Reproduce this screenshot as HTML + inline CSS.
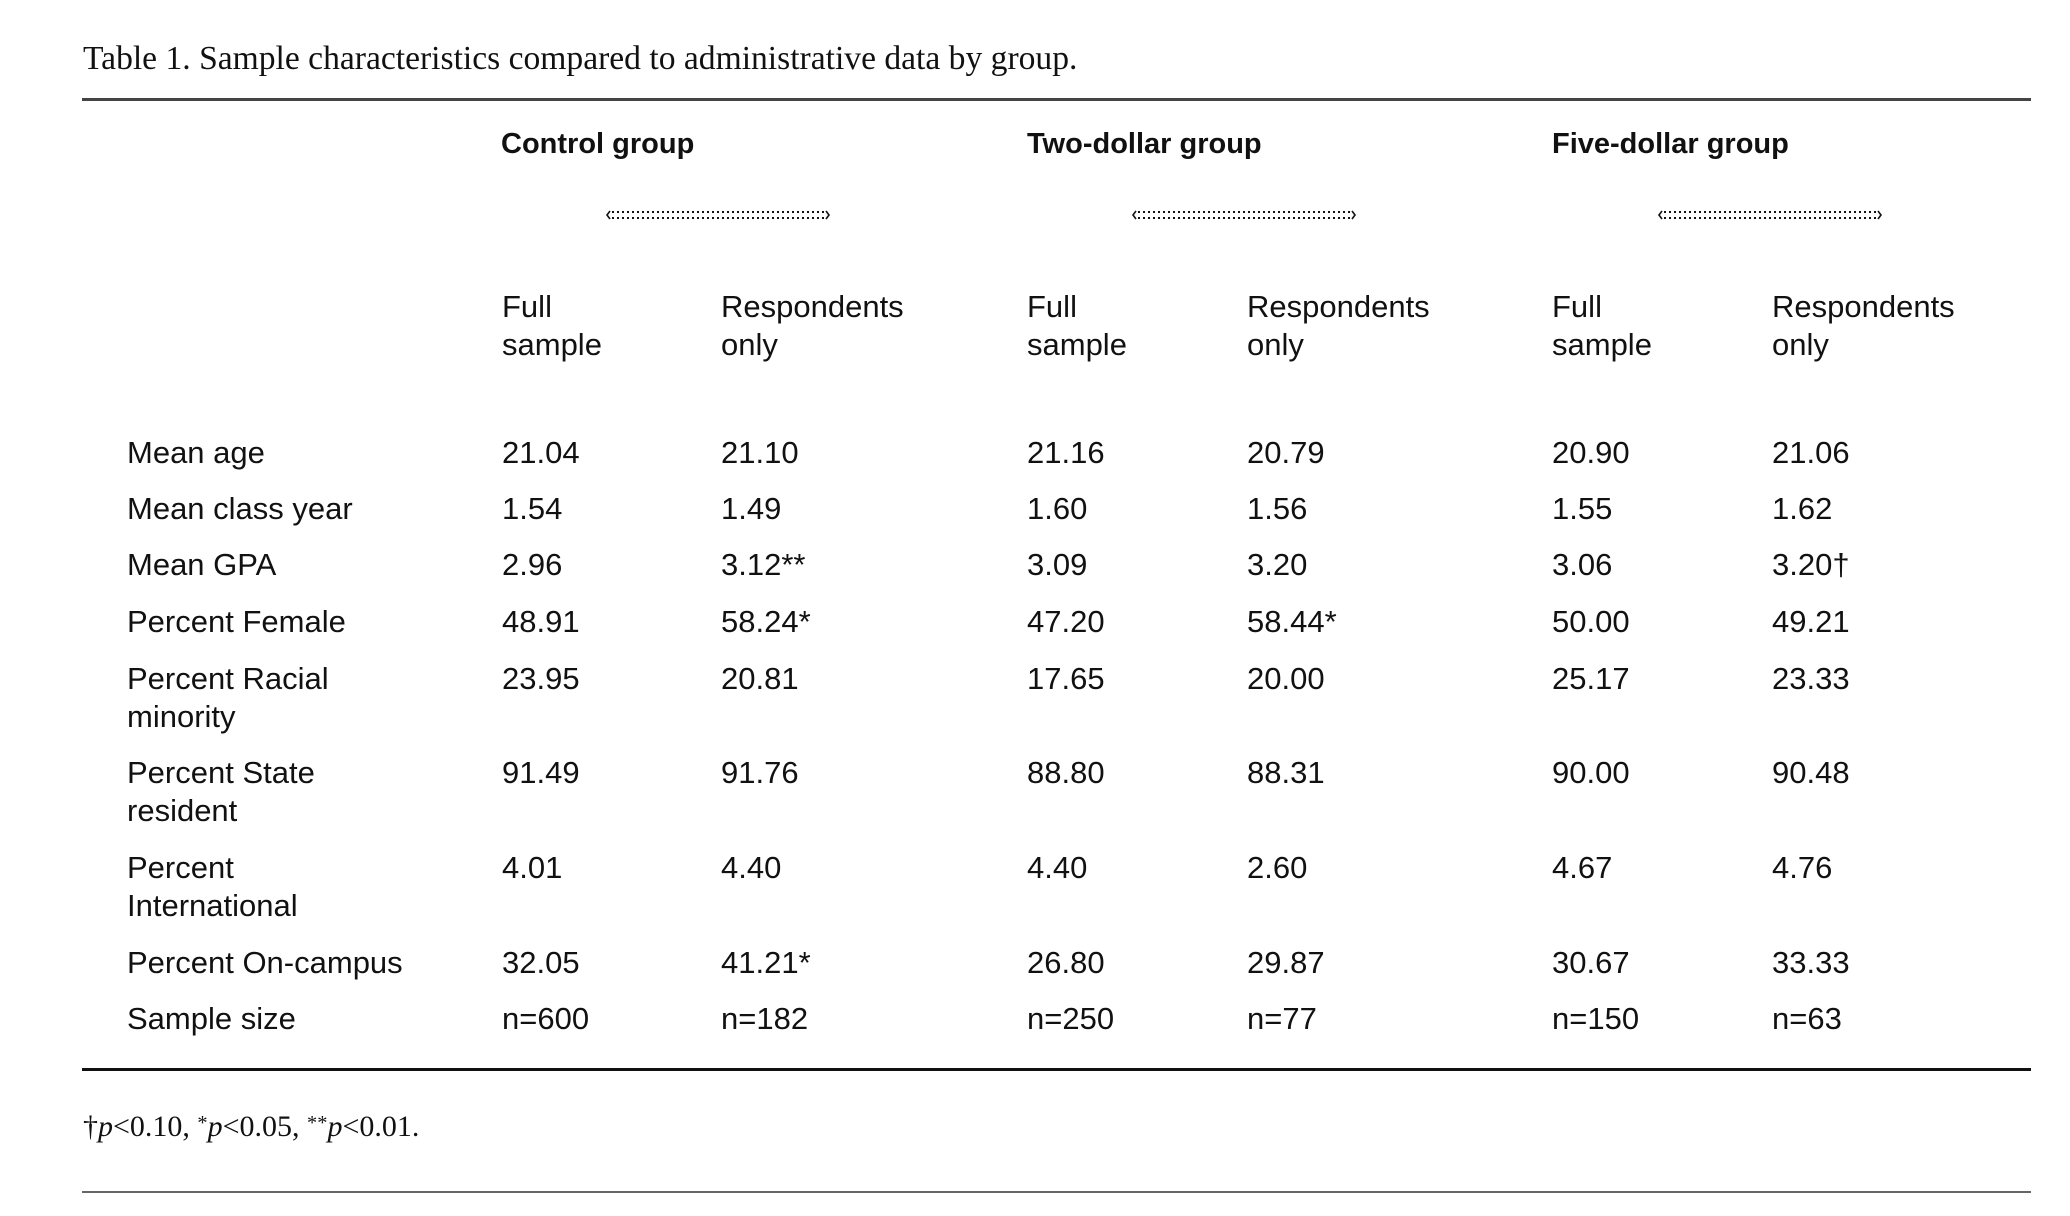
<!DOCTYPE html>
<html>
<head>
<meta charset="utf-8">
<style>
  html, body { margin:0; padding:0; background:#fff; }
  body { width:2070px; height:1216px; position:relative; overflow:hidden; color:#111; }
  .t { position:absolute; white-space:nowrap; }
  .serif { font-family:"Liberation Serif", "DejaVu Serif", serif; }
  .sans { font-family:"Liberation Sans", "DejaVu Sans", sans-serif; font-size:31px; line-height:38px; }
  .bold { font-family:"Liberation Sans", "DejaVu Sans", sans-serif; font-size:29px; line-height:38px; font-weight:bold; }
  .rule { position:absolute; left:82px; width:1949px; }
  sup.s { font-size:0.68em; vertical-align:0; position:relative; top:-0.35em; }
</style>
</head>
<body>

<div class="t serif" style="left:83px; top:39px; font-size:33.6px; line-height:40px;">Table 1. Sample characteristics compared to administrative data by group.</div>

<div class="rule" style="top:98px; height:3px; background:#444;"></div>

<!-- group headers -->
<div class="t bold" style="left:501px; top:125px;">Control group</div>
<div class="t bold" style="left:1027px; top:125px;">Two-dollar group</div>
<div class="t bold" style="left:1552px; top:125px;">Five-dollar group</div>

<!-- dotted brackets -->
<svg style="position:absolute; left:0; top:0;" width="2070" height="260">
  <g fill="none" stroke="#111" stroke-width="2">
    <g transform="translate(606,208)">
      <line x1="6" y1="4" x2="218" y2="4" stroke-dasharray="2 3"/>
      <line x1="6" y1="10" x2="218" y2="10" stroke-dasharray="2 3"/>
      <polyline points="4,3 1,7 4,11" stroke-width="1.6"/>
      <polyline points="220,3 223,7 220,11" stroke-width="1.6"/>
    </g>
    <g transform="translate(1132,208)">
      <line x1="6" y1="4" x2="218" y2="4" stroke-dasharray="2 3"/>
      <line x1="6" y1="10" x2="218" y2="10" stroke-dasharray="2 3"/>
      <polyline points="4,3 1,7 4,11" stroke-width="1.6"/>
      <polyline points="220,3 223,7 220,11" stroke-width="1.6"/>
    </g>
    <g transform="translate(1658,208)">
      <line x1="6" y1="4" x2="218" y2="4" stroke-dasharray="2 3"/>
      <line x1="6" y1="10" x2="218" y2="10" stroke-dasharray="2 3"/>
      <polyline points="4,3 1,7 4,11" stroke-width="1.6"/>
      <polyline points="220,3 223,7 220,11" stroke-width="1.6"/>
    </g>
  </g>
</svg>

<!-- sub headers -->
<div class="t sans" style="left:502px; top:288px;">Full<br>sample</div>
<div class="t sans" style="left:721px; top:288px;">Respondents<br>only</div>
<div class="t sans" style="left:1027px; top:288px;">Full<br>sample</div>
<div class="t sans" style="left:1247px; top:288px;">Respondents<br>only</div>
<div class="t sans" style="left:1552px; top:288px;">Full<br>sample</div>
<div class="t sans" style="left:1772px; top:288px;">Respondents<br>only</div>

<!-- rows -->
<div class="t sans" style="left:127px; top:434px;">Mean age</div>
<div class="t sans" style="left:502px; top:434px;">21.04</div>
<div class="t sans" style="left:721px; top:434px;">21.10</div>
<div class="t sans" style="left:1027px; top:434px;">21.16</div>
<div class="t sans" style="left:1247px; top:434px;">20.79</div>
<div class="t sans" style="left:1552px; top:434px;">20.90</div>
<div class="t sans" style="left:1772px; top:434px;">21.06</div>

<div class="t sans" style="left:127px; top:490px;">Mean class year</div>
<div class="t sans" style="left:502px; top:490px;">1.54</div>
<div class="t sans" style="left:721px; top:490px;">1.49</div>
<div class="t sans" style="left:1027px; top:490px;">1.60</div>
<div class="t sans" style="left:1247px; top:490px;">1.56</div>
<div class="t sans" style="left:1552px; top:490px;">1.55</div>
<div class="t sans" style="left:1772px; top:490px;">1.62</div>

<div class="t sans" style="left:127px; top:546px;">Mean GPA</div>
<div class="t sans" style="left:502px; top:546px;">2.96</div>
<div class="t sans" style="left:721px; top:546px;">3.12**</div>
<div class="t sans" style="left:1027px; top:546px;">3.09</div>
<div class="t sans" style="left:1247px; top:546px;">3.20</div>
<div class="t sans" style="left:1552px; top:546px;">3.06</div>
<div class="t sans" style="left:1772px; top:546px;">3.20†</div>

<div class="t sans" style="left:127px; top:603px;">Percent Female</div>
<div class="t sans" style="left:502px; top:603px;">48.91</div>
<div class="t sans" style="left:721px; top:603px;">58.24*</div>
<div class="t sans" style="left:1027px; top:603px;">47.20</div>
<div class="t sans" style="left:1247px; top:603px;">58.44*</div>
<div class="t sans" style="left:1552px; top:603px;">50.00</div>
<div class="t sans" style="left:1772px; top:603px;">49.21</div>

<div class="t sans" style="left:127px; top:660px;">Percent Racial<br>minority</div>
<div class="t sans" style="left:502px; top:660px;">23.95</div>
<div class="t sans" style="left:721px; top:660px;">20.81</div>
<div class="t sans" style="left:1027px; top:660px;">17.65</div>
<div class="t sans" style="left:1247px; top:660px;">20.00</div>
<div class="t sans" style="left:1552px; top:660px;">25.17</div>
<div class="t sans" style="left:1772px; top:660px;">23.33</div>

<div class="t sans" style="left:127px; top:754px;">Percent State<br>resident</div>
<div class="t sans" style="left:502px; top:754px;">91.49</div>
<div class="t sans" style="left:721px; top:754px;">91.76</div>
<div class="t sans" style="left:1027px; top:754px;">88.80</div>
<div class="t sans" style="left:1247px; top:754px;">88.31</div>
<div class="t sans" style="left:1552px; top:754px;">90.00</div>
<div class="t sans" style="left:1772px; top:754px;">90.48</div>

<div class="t sans" style="left:127px; top:849px;">Percent<br>International</div>
<div class="t sans" style="left:502px; top:849px;">4.01</div>
<div class="t sans" style="left:721px; top:849px;">4.40</div>
<div class="t sans" style="left:1027px; top:849px;">4.40</div>
<div class="t sans" style="left:1247px; top:849px;">2.60</div>
<div class="t sans" style="left:1552px; top:849px;">4.67</div>
<div class="t sans" style="left:1772px; top:849px;">4.76</div>

<div class="t sans" style="left:127px; top:944px;">Percent On-campus</div>
<div class="t sans" style="left:502px; top:944px;">32.05</div>
<div class="t sans" style="left:721px; top:944px;">41.21*</div>
<div class="t sans" style="left:1027px; top:944px;">26.80</div>
<div class="t sans" style="left:1247px; top:944px;">29.87</div>
<div class="t sans" style="left:1552px; top:944px;">30.67</div>
<div class="t sans" style="left:1772px; top:944px;">33.33</div>

<div class="t sans" style="left:127px; top:1000px;">Sample size</div>
<div class="t sans" style="left:502px; top:1000px;">n=600</div>
<div class="t sans" style="left:721px; top:1000px;">n=182</div>
<div class="t sans" style="left:1027px; top:1000px;">n=250</div>
<div class="t sans" style="left:1247px; top:1000px;">n=77</div>
<div class="t sans" style="left:1552px; top:1000px;">n=150</div>
<div class="t sans" style="left:1772px; top:1000px;">n=63</div>

<div class="rule" style="top:1068px; height:3px; background:#111;"></div>

<div class="t serif" style="left:83px; top:1109px; font-size:30px; line-height:36px;">†<i>p</i>&lt;0.10, <sup class="s">*</sup><i>p</i>&lt;0.05, <sup class="s">**</sup><i>p</i>&lt;0.01.</div>

<div class="rule" style="top:1191px; height:2px; background:#666;"></div>

</body>
</html>
